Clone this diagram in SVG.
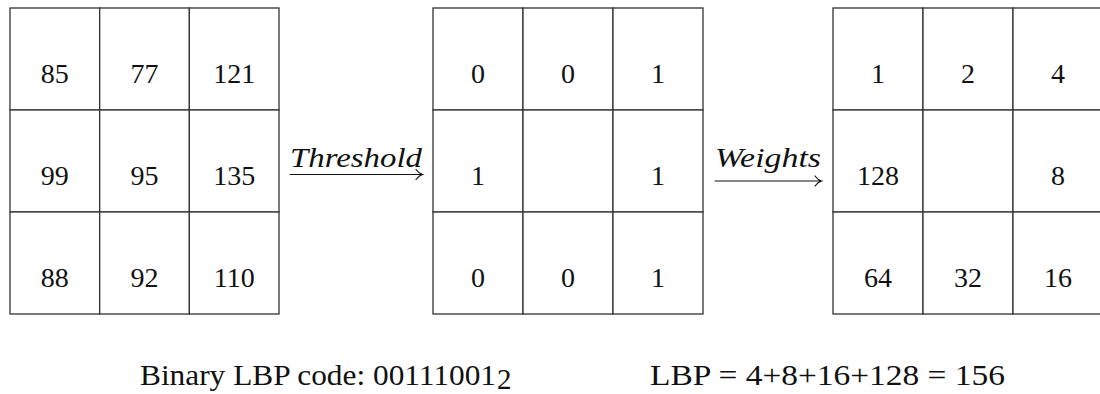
<svg xmlns="http://www.w3.org/2000/svg" width="1100" height="394" viewBox="0 0 1100 394">
  <style>
    .cell { fill: #fff; stroke: #333; stroke-width: 1.3; }
    .num { font-family: "Liberation Serif", "DejaVu Serif", serif; font-size: 28px; fill: #111; text-anchor: middle; }
    .lbl { font-family: "Liberation Serif", "DejaVu Serif", serif; font-size: 27px; font-style: italic; fill: #111; }
    .cap { font-family: "Liberation Serif", "DejaVu Serif", serif; font-size: 29px; fill: #111; }
    .arrow { fill: none; stroke: #111; stroke-width: 1.2; stroke-linecap: round; }
  </style>
  <rect width="1100" height="394" fill="#fff"/>

  <!-- input patch: grey levels -->
  <g id="input-grid">
    <rect class="cell" x="10" y="8" width="89.7" height="102"/>
    <rect class="cell" x="99.7" y="8" width="89.7" height="102"/>
    <rect class="cell" x="189.3" y="8" width="89.7" height="102"/>
    <rect class="cell" x="10" y="110" width="89.7" height="102"/>
    <rect class="cell" x="99.7" y="110" width="89.7" height="102"/>
    <rect class="cell" x="189.3" y="110" width="89.7" height="102"/>
    <rect class="cell" x="10" y="212" width="89.7" height="102"/>
    <rect class="cell" x="99.7" y="212" width="89.7" height="102"/>
    <rect class="cell" x="189.3" y="212" width="89.7" height="102"/>
    <text class="num" x="54.8" y="83">85</text>
    <text class="num" x="144.5" y="83">77</text>
    <text class="num" x="234.2" y="83">121</text>
    <text class="num" x="54.8" y="185">99</text>
    <text class="num" x="144.5" y="185">95</text>
    <text class="num" x="234.2" y="185">135</text>
    <text class="num" x="54.8" y="287">88</text>
    <text class="num" x="144.5" y="287">92</text>
    <text class="num" x="234.2" y="287">110</text>
  </g>

  <!-- thresholded patch -->
  <g id="threshold-grid">
    <rect class="cell" x="433" y="8" width="90" height="102"/>
    <rect class="cell" x="523" y="8" width="90" height="102"/>
    <rect class="cell" x="613" y="8" width="90" height="102"/>
    <rect class="cell" x="433" y="110" width="90" height="102"/>
    <rect class="cell" x="523" y="110" width="90" height="102"/>
    <rect class="cell" x="613" y="110" width="90" height="102"/>
    <rect class="cell" x="433" y="212" width="90" height="102"/>
    <rect class="cell" x="523" y="212" width="90" height="102"/>
    <rect class="cell" x="613" y="212" width="90" height="102"/>
    <text class="num" x="478" y="83">0</text>
    <text class="num" x="568" y="83">0</text>
    <text class="num" x="658" y="83">1</text>
    <text class="num" x="478" y="185">1</text>
    <text class="num" x="658" y="185">1</text>
    <text class="num" x="478" y="287">0</text>
    <text class="num" x="568" y="287">0</text>
    <text class="num" x="658" y="287">1</text>
  </g>

  <!-- weight mask -->
  <g id="weights-grid">
    <rect class="cell" x="833" y="8" width="90" height="102"/>
    <rect class="cell" x="923" y="8" width="90" height="102"/>
    <rect class="cell" x="1013" y="8" width="90" height="102"/>
    <rect class="cell" x="833" y="110" width="90" height="102"/>
    <rect class="cell" x="923" y="110" width="90" height="102"/>
    <rect class="cell" x="1013" y="110" width="90" height="102"/>
    <rect class="cell" x="833" y="212" width="90" height="102"/>
    <rect class="cell" x="923" y="212" width="90" height="102"/>
    <rect class="cell" x="1013" y="212" width="90" height="102"/>
    <text class="num" x="878" y="83">1</text>
    <text class="num" x="968" y="83">2</text>
    <text class="num" x="1058" y="83">4</text>
    <text class="num" x="878" y="185">128</text>
    <text class="num" x="1058" y="185">8</text>
    <text class="num" x="878" y="287">64</text>
    <text class="num" x="968" y="287">32</text>
    <text class="num" x="1058" y="287">16</text>
  </g>

  <!-- labelled arrows between the grids -->
  <g id="connectors">
    <g id="arrow-threshold">
      <path class="arrow" d="M290 174.5 H422.5 M416 169.5 Q419 173.5 422.5 174.5 Q419 175.5 416 179.5"/>
      <text class="lbl" x="290" y="167" textLength="132" lengthAdjust="spacingAndGlyphs">Threshold</text>
    </g>
    <g id="arrow-weights">
      <path class="arrow" d="M715 181 H821.5 M815 176 Q818 180 821.5 181 Q818 182 815 186"/>
      <text class="lbl" x="715" y="167" textLength="106" lengthAdjust="spacingAndGlyphs">Weights</text>
    </g>
  </g>

  <!-- resulting code and value -->
  <g id="binary-code">
    <text class="cap" x="140" y="385" textLength="356" lengthAdjust="spacingAndGlyphs">Binary LBP code: 00111001</text>
    <text class="cap" x="497" y="389" font-size="18">2</text>
  </g>
  <g id="lbp-value">
    <text class="cap" x="650" y="385" textLength="355" lengthAdjust="spacingAndGlyphs">LBP = 4+8+16+128 = 156</text>
  </g>
</svg>
